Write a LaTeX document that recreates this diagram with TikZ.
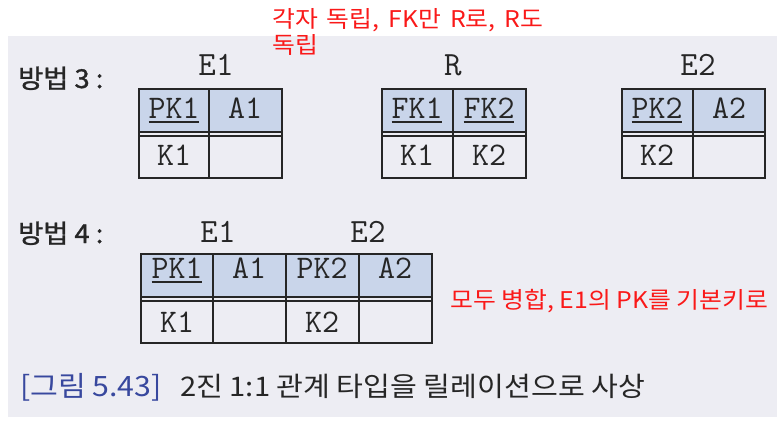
\documentclass[tikz,border=0pt]{standalone}
\usepackage{fontspec}
\newfontfamily\krwide[FakeStretch=1.08]{Noto Sans CJK KR}
\newfontfamily\krheavy[FakeBold=1.2,FakeStretch=1.05]{Noto Sans CJK KR}
\definecolor{bgpaper}{RGB}{237,237,243}
\definecolor{hdrfill}{RGB}{201,213,234}
\definecolor{inkc}{RGB}{38,38,38}
\definecolor{capblue}{RGB}{56,72,158}
\definecolor{notered}{RGB}{250,25,25}
\newcommand\ulkey[1]{\leavevmode\setbox0\hbox{#1}\rlap{\rule[-4.5pt]{\wd0}{1.5pt}}\box0}
\newcommand\relgrid[6]{%
  \fill[hdrfill] (#1,#3) rectangle (#2,#4);
  \draw[gridline] (#1,#4) -- (#2,#4);
  \draw[gridline] (#1,#4+4) -- (#2,#4+4);
  \foreach \xx in {#6} \draw[gridline] (\xx,#3) -- (\xx,#5);
  \draw[gridline] (#1,#3) rectangle (#2,#5);
}
\tikzset{
  gridline/.style={draw=inkc, line width=1.6pt},
  cell/.style={anchor=base, inner sep=0pt, text=inkc, font=\ttfamily\fontsize{33}{33}\selectfont},
  tlabel/.style={anchor=base, inner sep=0pt, text=inkc, font=\ttfamily\fontsize{34}{34}\selectfont},
  method/.style={anchor=base west, inner sep=0pt, text=inkc, font=\krheavy\fontsize{26}{26}\selectfont},
  note/.style={anchor=base west, inner sep=0pt, text=notered, font=\krwide\fontsize{23}{23}\selectfont},
  captext/.style={anchor=base west, inner sep=0pt, font=\krwide\fontsize{28}{28}\selectfont}
}
\begin{document}
\begin{tikzpicture}[x=1pt,y=-1pt]
\useasboundingbox (0,0) rectangle (782,440);
\fill[white] (0,0) rectangle (782,440);
\fill[bgpaper] (8,36) rectangle (777,417);

% notes
\node[note] (note1) at (272,27) {\spaceskip=9pt 각자 독립, FK만 R로, R도};
\node[note] (note2) at (272,53) {독립};
\node[note] (note3) at (450,308) {모두 병합, E1의 PK를 기본키로};

% method labels
\node[method] (m3) at (18,88) {방법 3 :};
\node[method] (m4) at (18,243) {방법 4 :};

% Method 3 tables
\relgrid{139}{282}{89}{132}{178}{209}
\relgrid{382}{526}{89}{132}{178}{453}
\relgrid{622}{765}{89}{132}{178}{693}

\node[tlabel] (e1) at (216,75) {E1};
\node[tlabel] (r) at (453,75) {R};
\node[tlabel] (e2) at (698,75) {E2};

\node[cell] (e1pk) at (174,118) {\ulkey{PK1}};
\node[cell] (e1a) at (245,118) {A1};
\node[cell] (e1k) at (174,165) {K1};

\node[cell] (rfk1) at (417,118) {\ulkey{FK1}};
\node[cell] (rfk2) at (489,118) {\ulkey{FK2}};
\node[cell] (rk1) at (417,165) {K1};
\node[cell] (rk2) at (489,165) {K2};

\node[cell] (e2pk) at (657,118) {\ulkey{PK2}};
\node[cell] (e2a) at (729,118) {A2};
\node[cell] (e2k) at (657,165) {K2};

% Method 4 table
\relgrid{141}{432}{254}{297}{343}{213,286,359}
\node[tlabel] (m4e1) at (218,242) {E1};
\node[tlabel] (m4e2) at (368,242) {E2};

\node[cell] (m4pk1) at (177,278) {\ulkey{PK1}};
\node[cell] (m4a1) at (249,278) {A1};
\node[cell] (m4pk2) at (322,278) {PK2};
\node[cell] (m4a2) at (395,278) {A2};
\node[cell] (m4k1) at (177,332) {K1};
\node[cell] (m4k2) at (322,332) {K2};

% caption
\node[captext, text=capblue] (capnum) at (20,396) {[그림 5.43]};
\node[captext, text=inkc, font=\krwide\fontsize{27}{27}\selectfont] (captxt) at (180,396) {2진 1:1 관계 타입을 릴레이션으로 사상};
\end{tikzpicture}
\end{document}
